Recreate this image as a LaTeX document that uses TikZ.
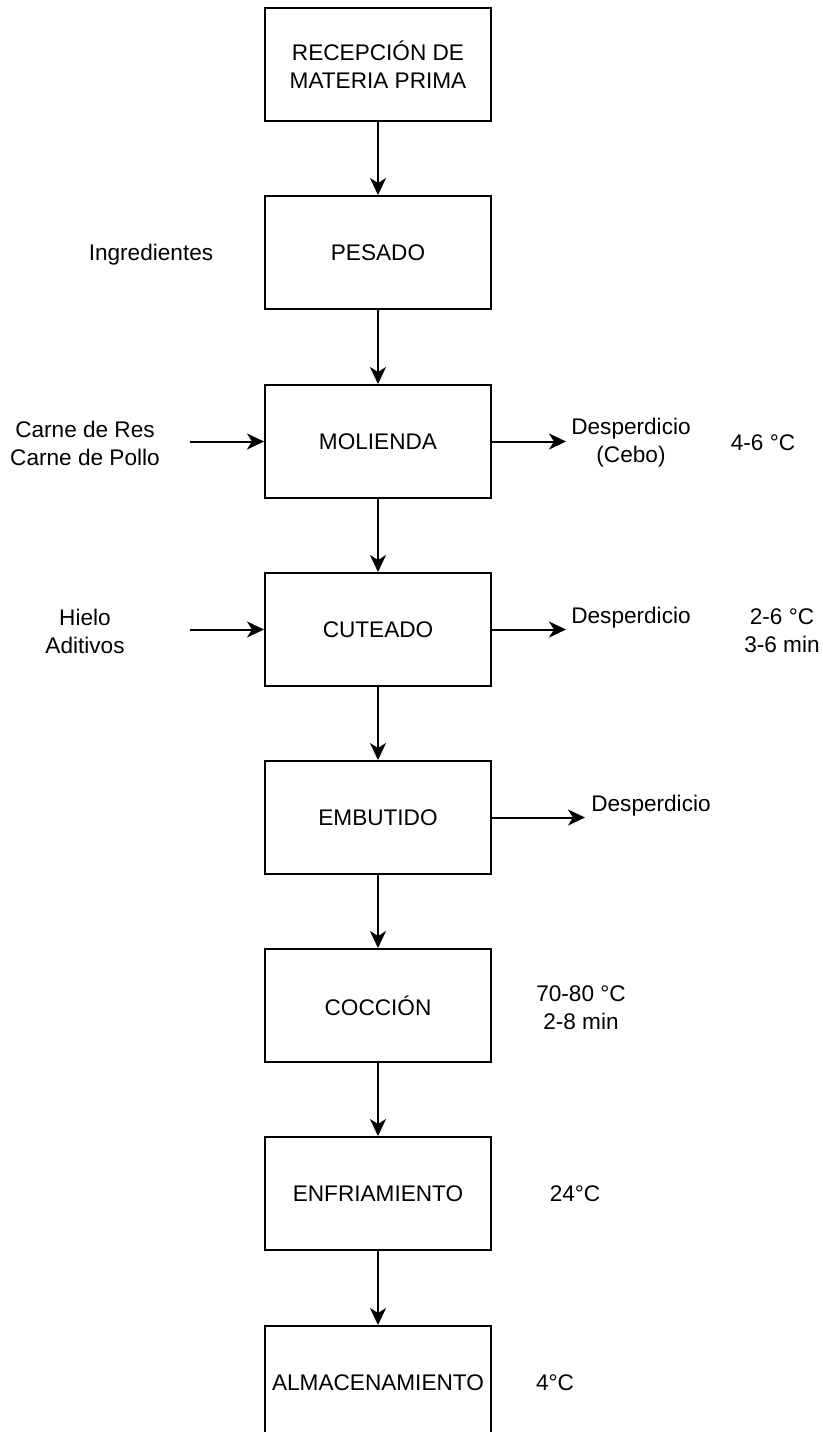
\documentclass[tikz,border=0pt]{standalone}
\usepackage{fontspec}
\setmainfont{Liberation Sans}
\usetikzlibrary{arrows.meta}
\begin{document}
\begin{tikzpicture}[x=0.5pt,y=-0.5pt,
  procbox/.style={draw, line width=1pt, minimum width=113pt, minimum height=56.5pt, inner sep=0pt, align=center, font=\fontsize{11.3}{14}\selectfont},
  lbl/.style={align=center, inner sep=0pt, yshift=-1pt, font=\fontsize{11.3}{14}\selectfont},
  flow/.style={-{Stealth[length=8.5pt,width=8pt,inset=2.5pt]}, line width=1pt}]
\clip (0,0) rectangle (823,1432);
\node[procbox] (b1) at (378,64.5) {RECEPCIÓN DE\\MATERIA PRIMA};
\node[procbox] (b2) at (378,252.5) {PESADO};
\node[procbox] (b3) at (378,441.5) {MOLIENDA};
\node[procbox] (b4) at (378,629.5) {CUTEADO};
\node[procbox] (b5) at (378,817.5) {EMBUTIDO};
\node[procbox] (b6) at (378,1005.5) {COCCIÓN};
\node[procbox] (b7) at (378,1193.5) {ENFRIAMIENTO};
\node[procbox] (b8) at (378,1382.5) {ALMACENAMIENTO};
\foreach \a/\b in {b1/b2,b2/b3,b3/b4,b4/b5,b5/b6,b6/b7,b7/b8}
  \draw[flow] (\a) -- (\b);
% side texts
\node[lbl] (ing) at (151,253) {Ingredientes};
\node[lbl] (carne) at (85,441) {Carne de Res\\Carne de Pollo};
\node[lbl] (des1) at (631,441) {Desperdicio\\(Cebo)};
\node[lbl] (t1) at (763,441) {4-6 °C};
\node[lbl] (hielo) at (85,629) {Hielo\\Aditivos};
\node[lbl] (des2) at (631,616) {Desperdicio};
\node[lbl] (t2) at (782,629) {2-6 °C\\3-6 min};
\node[lbl] (des3) at (651,804) {Desperdicio};
\node[lbl] (t3) at (581,1006) {70-80 °C\\2-8 min};
\node[lbl] (t4) at (575,1192) {24°C};
\node[lbl] (t5) at (555,1381) {4°C};
% side arrows
\coordinate (in1) at (190,441.5);
\coordinate (in2) at (190,629.5);
\coordinate (out1) at (566,441.5);
\coordinate (out2) at (566,629.5);
\coordinate (out3) at (585,817.5);
\draw[flow] (in1) -- (b3.west);
\draw[flow] (in2) -- (b4.west);
\draw[flow] (b3.east) -- (out1);
\draw[flow] (b4.east) -- (out2);
\draw[flow] (b5.east) -- (out3);
\end{tikzpicture}
\end{document}
